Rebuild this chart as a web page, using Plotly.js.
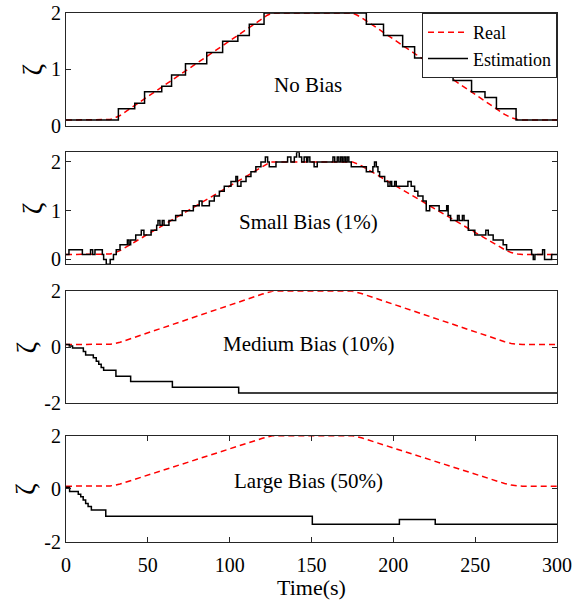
<!DOCTYPE html>
<html>
<head>
<meta charset="utf-8">
<script src="https://cdn.plot.ly/plotly-3.0.1.min.js"></script>
<style>html,body{margin:0;padding:0;background:#fff;}#chart{width:584px;height:600px;}</style>
</head>
<body>
<div id="chart"></div>
<script>
// Real trajectory
const timeReal = [0, 24, 27, 30, 33, 120, 123, 126, 175, 178, 181, 268, 272, 276, 279, 300];
const zetaReal = [0.1, 0.1, 0.11, 0.14, 0.18, 1.9, 1.96, 2, 2, 1.96, 1.91, 0.2, 0.14, 0.11, 0.1, 0.1];

// No bias estimation (step starts)
const tNoBias = [0, 32, 42, 48, 58.5, 64.5, 73, 86, 95.7, 105, 112, 121, 183.5, 194, 205.7, 213, 224.4, 236.5, 247.8, 256, 263, 275, 300];
const zNoBias = [0.1, 0.3, 0.4, 0.6, 0.7, 0.9, 1.1, 1.3, 1.5, 1.6, 1.8, 2.0, 1.8, 1.6, 1.4, 1.2, 1.0, 0.8, 0.6, 0.5, 0.3, 0.1, 0.1];

// Small bias (1%) estimation
const tSmall = [0, 1.8, 10, 15, 16.3, 17.7, 22.2, 23, 24.6, 27, 29, 30.7, 33, 37.5, 38.5, 39.5, 42.6, 46, 47.6, 52, 55.4, 56.2, 57.4, 58.8, 59.9, 62.9, 67, 71, 77.8, 81.4, 83.1, 87.6, 90.6, 93.7, 96.7, 100.8, 103.8, 104.8, 106.9, 110, 113, 116, 119.1, 121.8, 123.2, 124.2, 128.3, 135.4, 137.4, 139.5, 140.9, 142.5, 144, 145.5, 147, 147.8, 149, 151.6, 153.5, 163.1, 164.2, 165.7, 166.7, 167.8, 168.8, 169.8, 170.8, 171.8, 172.8, 174.3, 183.5, 187.5, 188.5, 189.6, 190.6, 191.6, 194.7, 196.7, 198, 199, 200.8, 201.8, 208.9, 210.9, 213, 215, 218.1, 220.1, 222.2, 228, 232.6, 233.5, 235, 239.2, 240.2, 242.2, 243.2, 245.8, 249.8, 256.5, 258, 261, 267.1, 269.2, 284.5, 285.5, 286.5, 291.2, 292.4, 296.7, 300];
const zSmall = [0.1, 0.2, 0.1, 0.2, 0.1, 0.2, 0.1, 0.0, -0.1, 0.0, 0.1, 0.2, 0.3, 0.4, 0.3, 0.4, 0.5, 0.6, 0.5, 0.6, 0.7, 0.8, 0.7, 0.8, 0.7, 0.8, 0.9, 1.0, 1.1, 1.2, 1.1, 1.2, 1.3, 1.4, 1.5, 1.6, 1.7, 1.5, 1.6, 1.7, 1.8, 1.9, 2.0, 2.1, 2.0, 1.9, 2.0, 2.1, 2.0, 2.1, 2.2, 2.1, 2.0, 2.1, 2.0, 2.1, 2.0, 1.9, 2.0, 2.1, 2.0, 2.1, 2.0, 2.1, 2.0, 2.1, 2.0, 2.1, 2.0, 1.9, 1.8, 1.9, 2.0, 1.9, 1.8, 1.7, 1.6, 1.5, 1.6, 1.5, 1.6, 1.5, 1.6, 1.5, 1.4, 1.3, 1.2, 1.0, 1.1, 1.0, 1.1, 0.9, 0.8, 0.9, 0.8, 0.9, 0.8, 0.6, 0.5, 0.6, 0.5, 0.4, 0.3, 0.2, 0.1, 0.0, 0.1, 0.2, 0.0, 0.1, 0.1];

// Medium bias (10%) estimation
const tMedium = [0, 2, 4, 10.6, 12, 16.7, 18.5, 20, 21.5, 23, 30.5, 39.5, 65, 105.5, 300];
const zMedium = [0.1, 0.05, -0.02, -0.15, -0.27, -0.37, -0.5, -0.6, -0.72, -0.82, -1.03, -1.22, -1.42, -1.63, -1.63];

// Large bias (50%) estimation
const tLarge = [0, 2.2, 7.5, 9, 10.5, 12, 13.5, 15.5, 24.3, 150.5, 203.7, 225.6, 300];
const zLarge = [0.06, -0.1, -0.2, -0.3, -0.42, -0.55, -0.66, -0.8, -1.03, -1.33, -1.15, -1.33, -1.33];

const panelLabels = ['No Bias', 'Small Bias (1%)', 'Medium Bias (10%)', 'Large Bias (50%)'];
const xTicks = [0, 50, 100, 150, 200, 250, 300];
const yTicks12 = [0, 1, 2];
const yTicks34 = [-2, 0, 2];
const yTickText34 = ['-2', '0', '2'];

const FONT = 'Liberation Serif, Times New Roman, serif';
const AX = '#262626';
const redLine = {color: '#ff0000', width: 1.5, dash: '6px,4px'};
const blkLine = {color: '#000000', width: 1.5, shape: 'hv'};

const estT = [tNoBias, tSmall, tMedium, tLarge];
const estZ = [zNoBias, zSmall, zMedium, zLarge];

const traces = [];
for (let i = 0; i < 4; i++) {
  const xa = i === 0 ? 'x' : 'x' + (i + 1);
  const ya = i === 0 ? 'y' : 'y' + (i + 1);
  traces.push({x: timeReal, y: zetaReal, type: 'scatter', mode: 'lines', line: redLine,
    name: 'Real', showlegend: i === 0, xaxis: xa, yaxis: ya, hoverinfo: 'skip'});
  traces.push({x: estT[i], y: estZ[i], type: 'scatter', mode: 'lines', line: blkLine,
    name: 'Estimation', showlegend: i === 0, xaxis: xa, yaxis: ya, hoverinfo: 'skip'});
}

const domains = [[0.787, 1.0], [0.525, 0.737], [0.262, 0.474], [0.0, 0.201]];
const yRanges = [[0, 2], [-0.1, 2.2], [-2, 2], [-2, 2]];
const annY = [0.72, 0.77, 0.12, 0.29];
const zetaX = [-0.069, -0.069, -0.081, -0.081];

const layout = {
  width: 584, height: 600,
  margin: {l: 66, r: 27, t: 13, b: 58},
  paper_bgcolor: '#fff', plot_bgcolor: '#fff',
  font: {family: FONT, size: 20, color: '#000'},
  showlegend: true,
  legend: {x: 1, y: 1, xanchor: 'right', yanchor: 'top', bgcolor: '#fff',
    bordercolor: AX, borderwidth: 1, font: {family: FONT, size: 18, color: '#000'},
    tracegroupgap: 0, itemwidth: 40},
  annotations: [],
};

for (let i = 0; i < 4; i++) {
  const xk = i === 0 ? 'xaxis' : 'xaxis' + (i + 1);
  const yk = i === 0 ? 'yaxis' : 'yaxis' + (i + 1);
  const yId = i === 0 ? 'y' : 'y' + (i + 1);
  const xId = i === 0 ? 'x' : 'x' + (i + 1);
  const last = i === 3;
  layout[xk] = {
    domain: [0, 1], anchor: yId, range: [0, 300],
    showline: true, mirror: last ? 'ticks' : true, linecolor: AX, linewidth: 1,
    ticks: last ? 'inside' : '', ticklen: 5, tickcolor: AX,
    tickvals: xTicks, showticklabels: last, showgrid: false, zeroline: false,
    ticklabelstandoff: 5,
    tickfont: {family: FONT, size: 20, color: '#000'},
  };
  if (last) layout[xk].title = {text: 'Time(s)', font: {family: FONT, size: 22, color: '#000'}, standoff: 2};
  layout[yk] = {
    domain: domains[i], anchor: xId, range: yRanges[i],
    showline: true, mirror: 'ticks', linecolor: AX, linewidth: 1,
    ticks: 'inside', ticklen: 5, tickcolor: AX,
    tickvals: i < 2 ? yTicks12 : yTicks34,
    ticktext: i < 2 ? yTicks12.map(String) : yTickText34,
    showgrid: false, zeroline: false,
    tickfont: {family: FONT, size: 20, color: '#000'},
  };
  // y-axis title (ζ), placed beside each panel
  layout.annotations.push({
    xref: 'paper', yref: 'paper', x: zetaX[i], y: (domains[i][0] + domains[i][1]) / 2,
    text: 'ζ', textangle: -90, showarrow: false,
    font: {family: FONT, size: 28, color: '#000'}, xanchor: 'center', yanchor: 'middle'
  });
  layout.annotations.push({
    xref: xId, yref: yId, x: 148, y: annY[i], text: panelLabels[i],
    showarrow: false, font: {family: FONT, size: 21, color: '#000'},
    xanchor: 'center', yanchor: 'middle'
  });
}

Plotly.newPlot('chart', traces, layout, {staticPlot: true, displayModeBar: false});
</script>
</body>
</html>
